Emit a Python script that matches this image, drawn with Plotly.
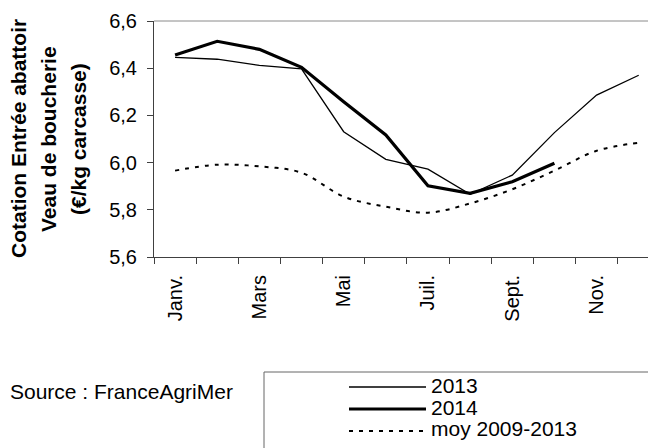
import plotly.graph_objects as go

months = ["Janv.", "Févr.", "Mars", "Avr.", "Mai", "Juin", "Juil.", "Août", "Sept.", "Oct.", "Nov.", "Déc."]
tick_text = ["Janv.", "", "Mars", "", "Mai", "", "Juil.", "", "Sept.", "", "Nov.", ""]
v2013 = [6.446, 6.438, 6.412, 6.397, 6.131, 6.014, 5.972, 5.866, 5.947, 6.127, 6.286, 6.370]
v2014 = [6.456, 6.514, 6.480, 6.404, 6.258, 6.117, 5.902, 5.870, 5.919, 5.997]
moy = [5.966, 5.991, 5.984, 5.957, 5.856, 5.813, 5.788, 5.827, 5.887, 5.966, 6.050, 6.084]
y_title_lines = ["Cotation Entrée abattoir", "Veau de boucherie", "(€/kg carcasse)"]
legend_names = ["2013", "2014", "moy 2009-2013"]
source_text = "Source : FranceAgriMer"

OFF = 8  # default body margin of the page
W, H = 656 - OFF, 448 - OFF
L, R, T, B = 154 - OFF, 0, 21 - OFF, 448 - 257
PW, PH = W - L - R, H - T - B
FONT = "Liberation Sans, Arial, sans-serif"


def px(x):
    return (x - OFF - L) / PW


def py(y):
    return (H - B - (y - OFF)) / PH


fig = go.Figure()
fig.add_trace(go.Scatter(x=months, y=v2013, mode="lines", name=legend_names[0],
                         line=dict(color="black", width=1.3)))
fig.add_trace(go.Scatter(x=months[:len(v2014)], y=v2014, mode="lines", name=legend_names[1],
                         line=dict(color="black", width=3.2)))
fig.add_trace(go.Scatter(x=months, y=moy, mode="lines", name=legend_names[2],
                         line=dict(color="black", width=2, dash="4px,6px", shape="spline", smoothing=1.0)))

fig.update_layout(
    width=W, height=H,
    margin=dict(l=L, r=R, t=T, b=B, pad=0),
    paper_bgcolor="white", plot_bgcolor="white",
    showlegend=False,
    separators=",.",
    font=dict(family=FONT, color="black", size=20),
)
fig.update_xaxes(
    type="category", categoryorder="array", categoryarray=months,
    range=[-0.5, 11.41],
    tickmode="array", tickvals=months, ticktext=tick_text,
    tickson="boundaries", ticks="outside", ticklen=6, tickcolor="#404040",
    tickangle=-90, tickfont=dict(size=20, family=FONT, color="black"),
    ticklabelstandoff=9,
    showline=True, linecolor="#404040", linewidth=1,
    showgrid=False, zeroline=False,
)
fig.update_yaxes(
    range=[5.6, 6.6], dtick=0.2, tick0=5.6, tickformat=".1f",
    ticks="outside", ticklen=6, tickcolor="#404040",
    tickfont=dict(size=20, family=FONT, color="black"),
    ticklabelstandoff=6,
    showline=True, linecolor="#404040", linewidth=1,
    showgrid=False, zeroline=False,
)

shapes = []
# top border of plot area
shapes.append(dict(type="line", xref="paper", yref="paper", x0=0, x1=1.01, y0=1, y1=1,
                   line=dict(color="#8a8a8a", width=1)))
# legend box
shapes.append(dict(type="rect", xref="paper", yref="paper", x0=px(264), x1=px(670), y0=py(372), y1=py(460),
                   line=dict(color="#666666", width=1), fillcolor="rgba(0,0,0,0)"))
leg_line_y = [387, 409, 431]
leg_styles = [dict(color="black", width=1.3), dict(color="black", width=3.2),
              dict(color="black", width=2, dash="4px,6px")]
for yy, st in zip(leg_line_y, leg_styles):
    shapes.append(dict(type="line", xref="paper", yref="paper", x0=px(349), x1=px(426), y0=py(yy), y1=py(yy),
                       line=st))
fig.update_layout(shapes=shapes)

ann = []
title_x = [18, 48, 78]
for txt, xx in zip(y_title_lines, title_x):
    ann.append(dict(text="<b>" + txt + "</b>", xref="paper", yref="paper", x=px(xx), y=py(139),
                    xanchor="center", yanchor="middle", textangle=-90, showarrow=False,
                    font=dict(size=21, family=FONT, color="black")))
leg_text_y = [385, 407, 429]
for txt, yy in zip(legend_names, leg_text_y):
    ann.append(dict(text=txt, xref="paper", yref="paper", x=px(429), y=py(yy),
                    xanchor="left", yanchor="middle", showarrow=False,
                    font=dict(size=21, family=FONT, color="black")))
ann.append(dict(text=source_text, xref="paper", yref="paper", x=px(OFF), y=py(391),
                xanchor="left", yanchor="middle", showarrow=False,
                font=dict(size=21, family=FONT, color="black")))
fig.update_layout(annotations=ann)

fig.write_html("out.html")
